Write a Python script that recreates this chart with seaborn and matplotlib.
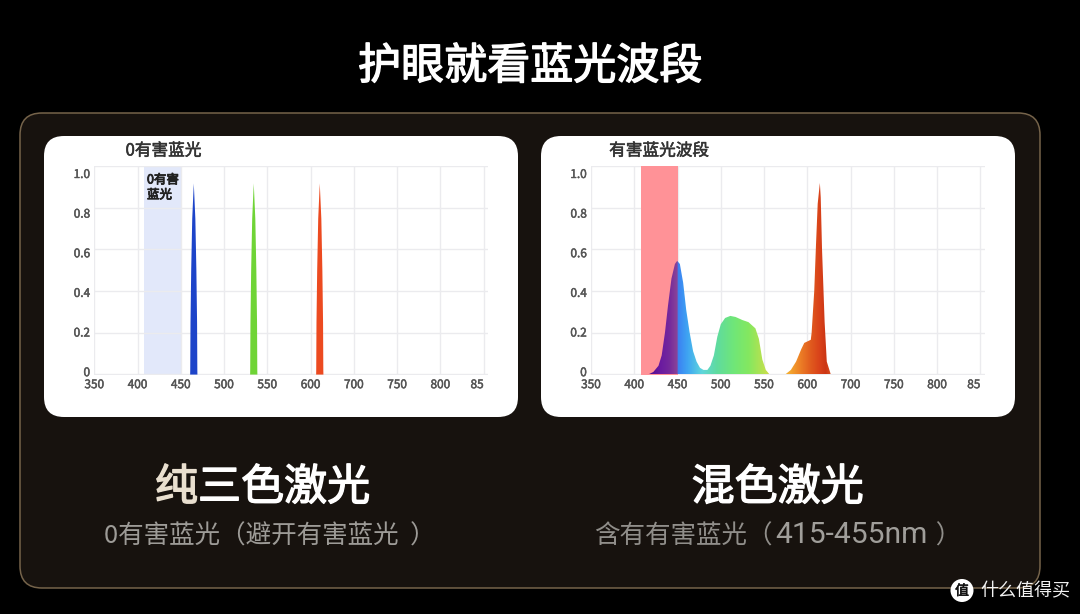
import numpy as np
import pandas as pd
import matplotlib
matplotlib.use("Agg")
import matplotlib.pyplot as plt
import matplotlib.patheffects as pe
from matplotlib.colors import LinearSegmentedColormap
from matplotlib.patches import FancyBboxPatch, Circle
import seaborn as sns

# Axis tick labels
x_ticks = [350, 400, 450, 500, 550, 600, 650, 700, 750, 800]
x_labels = ["350", "400", "450", "500", "550", "600", "700", "750", "800", "85"]
y_ticks = [0, 0.2, 0.4, 0.6, 0.8, 1.0]
y_labels = ["0", "0.2", "0.4", "0.6", "0.8", "1.0"]

# Pure RGB laser lines: wavelength offset from centre and relative power
line_centres = [464.4, 533.7, 610.0]
line_colours = ["#1d44c9", "#6fd436", "#ec4a20"]
line_offsets = [-4.2, -4.1, -3.8, -3.0, -1.8, 0.0, 1.8, 3.0, 3.8, 4.1, 4.2]
line_power = [0.0, 0.02, 0.25, 0.5, 0.75, 0.92, 0.75, 0.5, 0.25, 0.02, 0.0]

# Mixed laser spectrum
mixed_nm = [417, 422, 428, 431.7, 435.5, 439, 443, 447, 449.6, 452.7, 456.5, 460, 464, 468,
            472, 476, 480, 484.5, 488, 492, 496, 500, 505, 511, 517, 525, 532, 540, 544, 548,
            552, 556, 575, 581, 587, 593, 596.5, 604, 605, 608, 610, 612, 614.5, 615.5, 617,
            620, 622.5, 627]
mixed_power = [0, 0.01, 0.04, 0.09, 0.2, 0.33, 0.46, 0.53, 0.545, 0.53, 0.44, 0.31, 0.2, 0.11,
               0.06, 0.03, 0.02, 0.02, 0.04, 0.09, 0.18, 0.24, 0.27, 0.28, 0.275, 0.26, 0.25,
               0.22, 0.17, 0.07, 0.02, 0, 0, 0.02, 0.06, 0.12, 0.15, 0.165, 0.2, 0.4, 0.62,
               0.82, 0.92, 0.85, 0.6, 0.25, 0.06, 0]

# Harmful blue band as drawn on both charts
band_start, band_end = 408, 450.5

# Colours along the mixed spectrum
spectrum_stops = [(417, "#4e0a90"), (430, "#6a1aa0"), (440, "#74289c"), (449.8, "#8a4498"),
                  (450.2, "#3b80f2"), (462, "#3fa6f2"), (478, "#5fd6dc"), (495, "#5fdba0"),
                  (515, "#70e678"), (532, "#84e860"), (552, "#c2e04e"), (565, "#e8c040"),
                  (578, "#f4ac30"), (592, "#ec7e26"), (604, "#e05a1e"), (614, "#d9421a"),
                  (621, "#cc3614"), (627, "#d85020")]

sns.set_theme(style="white")
plt.rcParams["font.family"] = ["Noto Sans CJK SC", "DejaVu Sans"]

W, H = 1080, 614
fig = plt.figure(figsize=(W / 100, H / 100), dpi=100, facecolor="black")


def px_axes(x0, x1, y0, y1, **kw):
    return fig.add_axes([x0 / W, 1 - y1 / H, (x1 - x0) / W, (y1 - y0) / H], **kw)


# Backdrop in pixel coordinates: dark panel and two white cards
under = px_axes(0, W, 0, H, zorder=-1)
under.set_xlim(0, W)
under.set_ylim(H, 0)
under.axis("off")


def rounded(x, y, w, h, r, **kw):
    under.add_patch(FancyBboxPatch((x + r, y + r), w - 2 * r, h - 2 * r,
                                   boxstyle=f"round,pad={r},rounding_size={r}", **kw))


rounded(20, 113, 1020, 475, 22, facecolor="#17120e", edgecolor="#75634a", linewidth=1.1)
rounded(44, 136, 474, 281, 20, facecolor="white", edgecolor="none")
rounded(541, 136, 474, 281, 20, facecolor="white", edgecolor="none")


def style_chart(ax):
    ax.set_xlim(350, 805)
    ax.set_ylim(-0.003, 1.003)
    ax.set_facecolor("none")
    for s in ax.spines.values():
        s.set_visible(False)
    ax.set_xticks(x_ticks, x_labels)
    # Value labels sit slightly off their gridlines
    ax.set_yticks(y_ticks, [""] * len(y_ticks))
    ax.set_yticks([v * 0.954 + 0.014 for v in y_ticks], y_labels, minor=True)
    ax.tick_params(axis="x", length=0, pad=2.5, labelsize=8.5, labelcolor="#555555")
    ax.tick_params(axis="y", which="both", length=0, pad=3, labelsize=8.5, labelcolor="#555555")
    ax.grid(True, which="major", color="#ebebee", linewidth=1.0)
    ax.set_axisbelow(True)
    ax.set_xlabel("")
    ax.set_ylabel("")
    thick = [pe.withStroke(linewidth=0.35, foreground="#555555")]
    for lab in ax.get_xticklabels() + ax.get_yticklabels(minor=True):
        lab.set_path_effects(thick)
    for lab in ax.get_xticklabels():
        if lab.get_text() == "85":
            lab.set_ha("right")
            lab.set_x(804)


# Left chart: three narrow laser lines
ax1 = px_axes(94.3, 488, 165.7, 374.7, zorder=1)
lines = pd.DataFrame({
    "nm": [c + o for c in line_centres for o in line_offsets],
    "power": line_power * len(line_centres),
    "laser": [i for i in range(len(line_centres)) for _ in line_offsets],
})
ax1.axvspan(band_start, band_end + 0.4, color="#e2e8fa", linewidth=0, zorder=0.5)
sns.lineplot(data=lines, x="nm", y="power", hue="laser", palette=line_colours,
             estimator=None, sort=False, linewidth=0, legend=False, ax=ax1, zorder=3)
for i, colour in enumerate(line_colours):
    part = lines[lines["laser"] == i]
    ax1.fill_between(part["nm"], part["power"], 0, color=colour, linewidth=0, zorder=3)
style_chart(ax1)

# Right chart: continuous spectrum with a wavelength colour ramp
ax2 = px_axes(591, 984.7, 165.7, 374.7, zorder=1)
ax2.axvspan(band_start, band_end, color="#ff9297", linewidth=0, zorder=1.5)
sns.lineplot(x=mixed_nm, y=mixed_power, estimator=None, sort=False, linewidth=0, ax=ax2, zorder=2)
shape = ax2.fill_between(mixed_nm, mixed_power, 0, color="none", linewidth=0, zorder=2)
lo, hi = mixed_nm[0], mixed_nm[-1]
ramp = LinearSegmentedColormap.from_list(
    "spectrum", [((nm - lo) / (hi - lo), c) for nm, c in spectrum_stops], N=1024)
image = ax2.imshow(np.linspace(0, 1, 1024)[None, :], cmap=ramp, aspect="auto",
                   extent=(lo, hi, 0, 1), zorder=3, interpolation="bilinear")
image.set_clip_path(shape.get_paths()[0], transform=ax2.transData)
style_chart(ax2)

# Foreground text layer above the charts
top = px_axes(0, W, 0, H, zorder=2)
top.set_xlim(0, W)
top.set_ylim(H, 0)
top.axis("off")


def label(x, y, s, size, colour, stroke=0.0, **kw):
    t = top.text(x, y, s, fontsize=size, color=colour, ha=kw.pop("ha", "center"),
                 va="center", **kw)
    if stroke:
        t.set_path_effects([pe.withStroke(linewidth=stroke, foreground=colour)])
    return t


label(530, 67, "护眼就看蓝光波段", 31, "white", 1.0)
label(163.5, 151, "0有害蓝光", 12, "#333333", 0.4)
label(659, 151, "有害蓝光波段", 12, "#333333", 0.4)
label(147, 180, "0有害", 9, "#222222", 0.6, ha="left")
label(147, 195, "蓝光", 9, "#222222", 0.6, ha="left")

label(176.5, 488, "纯", 31, "#e9dfcf", 1.0)
label(284, 488, "三色激光", 31, "white", 1.0)
label(104, 537, "0有害蓝光（避开有害蓝光  ）", 18.4, "#9d9b97", ha="left")
label(777.5, 488, "混色激光", 31, "white", 1.0)
label(594, 537, "含有有害蓝光（", 18.4, "#908e8a", ha="left")
label(775, 535, "415-455nm", 21.6, "#a09e9a", ha="left", family="Roboto")
label(930, 537, " ）", 18.4, "#908e8a", ha="left")

# Site mark in the lower right corner
top.add_patch(Circle((962, 590.5), 11.5, facecolor="white", edgecolor="none"))
label(962, 591, "值", 10, "#111111", 0.4)
label(1025, 591, "什么值得买", 13, "#f2f2f2")

fig.savefig("out.png", dpi=100, facecolor="black")
